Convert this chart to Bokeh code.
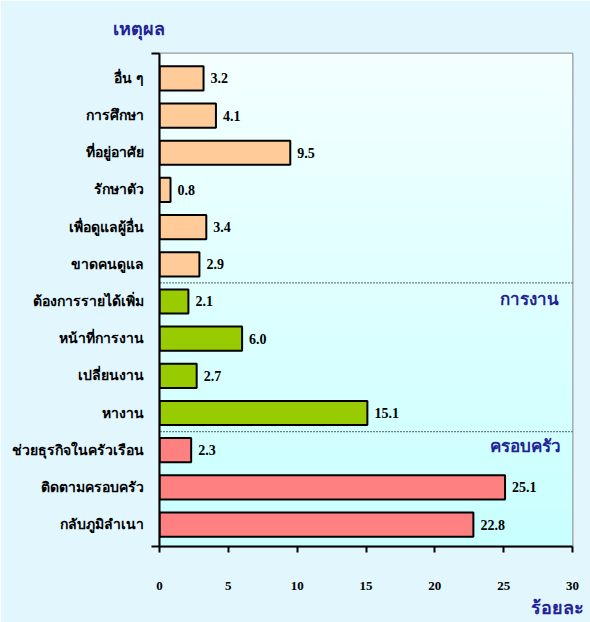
from bokeh.plotting import figure
from bokeh.models import Range1d, FixedTicker, Label, Arrow, BoxAnnotation, ColumnDataSource, LinearAxis
from bokeh.core.properties import value
from bokeh.embed import file_html
from bokeh.resources import INLINE

# ---- data (top to bottom as shown) ----
reasons = ["อื่น ๆ", "การศึกษา", "ที่อยู่อาศัย", "รักษาตัว", "เพื่อดูแลผู้อื่น", "ขาดคนดูแล",
           "ต้องการรายได้เพิ่ม", "หน้าที่การงาน", "เปลี่ยนงาน", "หางาน",
           "ช่วยธุรกิจในครัวเรือน", "ติดตามครอบครัว", "กลับภูมิลำเนา"]
percent = [3.2, 4.1, 9.5, 0.8, 3.4, 2.9, 2.1, 6.0, 2.7, 15.1, 2.3, 25.1, 22.8]
group = ["other"] * 6 + ["work"] * 4 + ["family"] * 3
group_colors = {"other": "#FFCC99", "work": "#99CC00", "family": "#FF8080"}
x_ticks = [0, 5, 10, 15, 20, 25, 30]
title_text = "เหตุผล"
x_title = "ร้อยละ"
work_label = "การงาน"
family_label = "ครอบครัว"

n = len(reasons)
ypos = [n - 1 - i for i in range(n)]
labels = [f"{v:.1f}" for v in percent]
colors = [group_colors[g] for g in group]

Y0, Y1 = -0.59, n - 1 + 0.67
navy = "#222299"

p = figure(width=590, height=622, output_backend="svg", toolbar_location=None,
           x_range=Range1d(0, 30), y_range=Range1d(Y0, Y1),
           min_border_left=159, min_border_right=18, min_border_top=53, min_border_bottom=76)
p.border_fill_color = "#E2F6FD"
p.background_fill_color = "#DDFFFF"
p.outline_line_color = "#999999"
p.outline_line_width = 2
p.grid.visible = False

# title "เหตุผล"
p.title.text = title_text
p.title.align = "left"
p.title.vertical_align = "top"
p.title.offset = -47
p.title.standoff = 26
p.title.text_font = "Liberation Serif"
p.title.text_font_style = "bold"
p.title.text_font_size = "18px"
p.title.text_color = navy

# gradient frame background (top light -> bottom cyan)
top_c = (0xF4, 0xFF, 0xFF)
bot_c = (0xC8, 0xFF, 0xFF)
nb = 40
for k in range(nb):
    t = (k + 0.5) / nb
    c = tuple(round(top_c[j] + (bot_c[j] - top_c[j]) * t) for j in range(3))
    b_top = Y1 - (Y1 - Y0) * k / nb
    b_bot = Y1 - (Y1 - Y0) * (k + 1) / nb
    p.add_layout(BoxAnnotation(top=b_top, bottom=b_bot - 0.01, fill_color="#%02X%02X%02X" % c,
                               fill_alpha=1, line_alpha=0, level="underlay"))

src = ColumnDataSource(dict(y=ypos, v=percent, lab=labels, c=colors))
p.hbar(y="y", right="v", left=0, height=0.65, fill_color="c", line_color="black",
       line_width=2, source=src)
p.text(x="v", y="y", text="lab", source=src, x_offset=7, text_baseline="middle",
       text_font=value("Liberation Serif"), text_font_style="bold", text_font_size="14px",
       text_color="black")

# x axis
xa = p.xaxis[0]
xa.ticker = FixedTicker(ticks=x_ticks, minor_ticks=[])
xa.axis_line_width = 2
xa.axis_line_color = "black"
xa.major_tick_in = 0
xa.major_tick_out = 6
xa.major_tick_line_width = 2
xa.major_label_standoff = 29
xa.major_label_text_font = "Liberation Serif"
xa.major_label_text_font_style = "bold"
xa.major_label_text_font_size = "13px"
xa.major_label_text_color = "black"

# second (label-only) x axis carrying "ร้อยละ" at the right end
unit_pos = 28.94
xa2 = LinearAxis(ticker=FixedTicker(ticks=[unit_pos], minor_ticks=[]),
                 major_label_overrides={unit_pos: x_title},
                 axis_line_color=None, major_tick_line_color=None, minor_tick_line_color=None,
                 major_tick_in=0, major_tick_out=0, major_label_standoff=5,
                 major_label_text_font="Liberation Serif", major_label_text_font_style="bold",
                 major_label_text_font_size="18px", major_label_text_color=navy)
p.add_layout(xa2, "below")

# y axis
ya = p.yaxis[0]
ya.ticker = FixedTicker(ticks=ypos, minor_ticks=[Y0, Y1])
ya.major_label_overrides = {y: r for y, r in zip(ypos, reasons)}
ya.axis_line_width = 2
ya.axis_line_color = "black"
ya.major_tick_in = 0
ya.major_tick_out = 0
ya.minor_tick_in = 0
ya.minor_tick_out = 8
ya.minor_tick_line_width = 2
ya.minor_tick_line_color = "black"
ya.major_label_standoff = 8
ya.major_label_text_font = "Liberation Serif"
ya.major_label_text_font_style = "bold"
ya.major_label_text_font_size = "14px"
ya.major_label_text_color = "black"

# group separators (dotted) and group labels
for ysep in [6.5, 2.5]:
    p.add_layout(Arrow(end=None, start=None, x_start=-9.95, y_start=ysep, x_end=32, y_end=ysep,
                       line_color="black", line_width=1.2, line_dash="1 2"))

p.add_layout(Label(x=29, y=6.5, y_offset=-7, text=work_label, text_align="right", text_baseline="top",
                   text_font="Liberation Serif", text_font_style="bold", text_font_size="17px",
                   text_color=navy))
p.add_layout(Label(x=29.2, y=2.5, y_offset=-5, text=family_label, text_align="right", text_baseline="top",
                   text_font="Liberation Serif", text_font_style="bold", text_font_size="17px",
                   text_color=navy))

open("out.html", "w").write(file_html(p, INLINE))
